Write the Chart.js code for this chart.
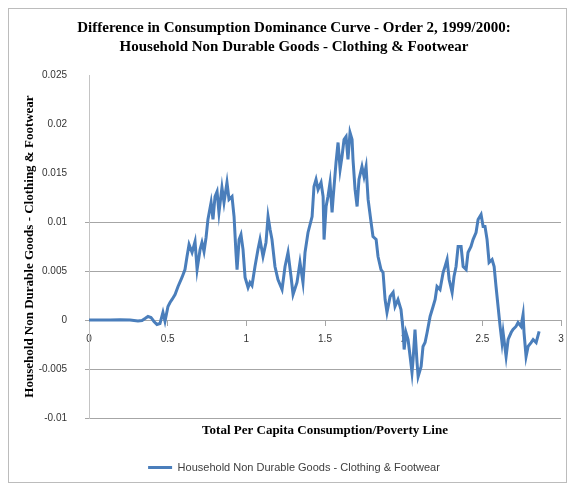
<!DOCTYPE html>
<html>
<head>
<meta charset="utf-8">
<script src="https://cdn.jsdelivr.net/npm/chart.js@4"></script>
<style>
    html, body { margin: 0; padding: 0; background: #fff; }
    #wrap { position: relative; width: 573px; height: 489px; }
    #frame { position: absolute; left: 8px; top: 8px; width: 557px; height: 473px; border: 1px solid #bcbcbc; pointer-events: none; }
</style>
</head>
<body>
<div id="wrap">
    <canvas id="chart" width="573" height="489"></canvas>
    <div id="frame"></div>
</div>
<script>
// --- DATA ---
const titleLines = ['Difference in Consumption Dominance Curve - Order 2, 1999/2000:', 'Household Non Durable Goods - Clothing & Footwear'];
const seriesName = 'Household Non Durable Goods - Clothing & Footwear';

// total per capita consumption / poverty line
const consumptionRatio = [
    0, 0.070, 0.134, 0.197, 0.261, 0.311, 0.337, 0.356, 0.375, 0.394,
    0.413, 0.432, 0.451, 0.470, 0.483, 0.502, 0.515, 0.528, 0.547, 0.566,
    0.591, 0.610, 0.623, 0.636, 0.655, 0.674, 0.687, 0.706, 0.718, 0.731,
    0.744, 0.756, 0.776, 0.788, 0.801, 0.814, 0.826, 0.845, 0.858, 0.877,
    0.890, 0.909, 0.922, 0.934, 0.941, 0.954, 0.966, 0.979, 0.992, 1.011,
    1.023, 1.036, 1.055, 1.074, 1.087, 1.106, 1.125, 1.138, 1.151, 1.163,
    1.182, 1.201, 1.227, 1.246, 1.265, 1.284, 1.297, 1.322, 1.341, 1.360,
    1.373, 1.392, 1.418, 1.430, 1.443, 1.456, 1.475, 1.488, 1.494, 1.507,
    1.519, 1.532, 1.545, 1.551, 1.570, 1.583, 1.596, 1.608, 1.621, 1.634,
    1.646, 1.659, 1.672, 1.678, 1.691, 1.704, 1.716, 1.735, 1.748, 1.761,
    1.774, 1.793, 1.805, 1.825, 1.837, 1.856, 1.869, 1.882, 1.894, 1.914,
    1.933, 1.945, 1.964, 1.983, 1.996, 2.003, 2.015, 2.028, 2.041, 2.053,
    2.060, 2.072, 2.085, 2.092, 2.111, 2.123, 2.136, 2.149, 2.168, 2.187,
    2.200, 2.212, 2.231, 2.251, 2.263, 2.276, 2.289, 2.308, 2.320, 2.333,
    2.346, 2.365, 2.378, 2.397, 2.409, 2.428, 2.441, 2.460, 2.473, 2.492,
    2.505, 2.517, 2.530, 2.543, 2.562, 2.575, 2.587, 2.600, 2.613, 2.625,
    2.632, 2.651, 2.664, 2.683, 2.695, 2.714, 2.727, 2.746, 2.759, 2.765,
    2.778, 2.791, 2.810, 2.823, 2.842, 2.861
];

// difference in dominance curve
const clothingDiff = [
    0, 0, 0, 0.00002, 0, -0.0001, -0.00005, 0.00015, 0.00036, 0.00026,
    -0.00015, -0.00046, -0.00036, 0.00077, -0.00012, 0.00138, 0.00179, 0.0021, 0.0026, 0.00342,
    0.00434, 0.00515, 0.00648, 0.0077, 0.00689, 0.00801, 0.00515, 0.00719, 0.00791, 0.00699,
    0.00842, 0.01026, 0.01199, 0.01026, 0.0126, 0.01311, 0.01097, 0.01352, 0.01199, 0.01403,
    0.0123, 0.0126, 0.01056, 0.00689, 0.00515, 0.00821, 0.00872, 0.00719, 0.00434, 0.00332,
    0.00383, 0.00352, 0.00546, 0.00719, 0.00821, 0.00648, 0.00791, 0.01056, 0.00923, 0.00821,
    0.00546, 0.00413, 0.00311, 0.00546, 0.00689, 0.00444, 0.0026, 0.00383, 0.00587, 0.00383,
    0.00689, 0.00893, 0.01056, 0.01362, 0.01434, 0.01332, 0.01403, 0.0126, 0.00821, 0.01158,
    0.0126, 0.01403, 0.01097, 0.0123, 0.01607, 0.01811, 0.01536, 0.01668, 0.01842, 0.01872,
    0.01638, 0.01913, 0.01842, 0.01638, 0.01332, 0.01158, 0.01434, 0.01566, 0.01464, 0.01566,
    0.0123, 0.00995, 0.00852, 0.00821, 0.00648, 0.00515, 0.00485, 0.00209, 0.00077, 0.0024,
    0.00281, 0.00138, 0.00209, 0.00107, -0.00097, -0.00301, -0.00128, -0.00199, -0.00372, -0.00536,
    -0.00403, -0.00097, -0.00434, -0.00577, -0.00474, -0.0027, -0.0023, -0.00128, 0.00036, 0.00138,
    0.00209, 0.00342, 0.00311, 0.00485, 0.00546, 0.00617, 0.00413, 0.00281, 0.00444, 0.00546,
    0.0075, 0.0075, 0.00546, 0.00515, 0.00689, 0.0075, 0.00821, 0.00893, 0.01026, 0.01077,
    0.00954, 0.00954, 0.00821, 0.00587, 0.00617, 0.00546, 0.00342, 0.00138, -0.00066, -0.0023,
    -0.00128, -0.00372, -0.00199, -0.00128, -0.00097, -0.00066, -0.00026, -0.00066, 0.00056, -0.00128,
    -0.00372, -0.0027, -0.0023, -0.00199, -0.0023, -0.00117
];

const xTicks = [0, 0.5, 1, 1.5, 2, 2.5, 3];
const yTicks = [-0.01, -0.005, 0, 0.005, 0.01, 0.015, 0.02, 0.025];

const lineBlue = '#4a7ebb';
const gridGrey = '#a6a6a6';
const serif = "'Liberation Serif', 'Times New Roman', serif";
const sans = "'Liberation Sans', Arial, sans-serif";

const fmt = v => String(Number(v.toFixed(3)));

window.onload = () => {
    const points = consumptionRatio.map((x, i) => ({ x: x, y: clothingDiff[i] }));

    new Chart(document.getElementById('chart').getContext('2d'), {
        type: 'line',
        data: {
            datasets: [{
                label: seriesName,
                data: points,
                borderColor: lineBlue,
                backgroundColor: lineBlue,
                borderWidth: 3,
                pointRadius: 0,
                tension: 0
            }]
        },
        options: {
            responsive: false,
            animation: false,
            parsing: false,
            // left padding 27 keeps title + legend centred where the original has them
            layout: { padding: { top: 10, left: 27, right: 12, bottom: 6 } },
            plugins: {
                title: {
                    display: true,
                    text: titleLines,
                    color: '#000',
                    font: { family: serif, size: 15, weight: 'bold', lineHeight: 1.3 },
                    padding: { top: 8, bottom: 18 }
                },
                legend: {
                    position: 'bottom',
                    labels: {
                        usePointStyle: true,
                        pointStyle: 'line',
                        pointStyleWidth: 24,
                        boxWidth: 24,
                        color: '#404040',
                        font: { family: sans, size: 11 },
                        padding: 10
                    }
                },
                tooltip: { enabled: false }
            },
            scales: {
                x: {
                    type: 'linear',
                    position: { y: 0 },
                    min: xTicks[0],
                    max: xTicks[xTicks.length - 1],
                    afterBuildTicks: s => { s.ticks = xTicks.map(v => ({ value: v })); },
                    ticks: { callback: fmt, color: '#333', font: { family: sans, size: 10 }, padding: 8, maxRotation: 0 },
                    grid: { drawOnChartArea: false, drawTicks: true, tickLength: 5, color: gridGrey },
                    border: { color: gridGrey }
                },
                x2: {
                    type: 'linear',
                    position: 'bottom',
                    afterFit: s => { s.height = 34; },
                    ticks: { display: false },
                    grid: { display: false },
                    border: { display: false },
                    title: {
                        display: true,
                        text: 'Total Per Capita Consumption/Poverty Line',
                        color: '#000',
                        font: { family: serif, size: 13, weight: 'bold' },
                        padding: { top: 0, bottom: 14 }
                    }
                },
                y: {
                    type: 'linear',
                    min: yTicks[0],
                    max: yTicks[yTicks.length - 1],
                    afterBuildTicks: s => { s.ticks = yTicks.map(v => ({ value: v })); },
                    afterFit: s => { s.width = 62; },
                    ticks: { callback: fmt, color: '#333', font: { family: sans, size: 10 }, padding: 18 },
                    grid: {
                        tickLength: 4,
                        color: c => (c.tick && c.tick.value > 0.012) ? 'rgba(0,0,0,0)' : gridGrey
                    },
                    border: { color: '#c4c4c4' },
                    title: {
                        display: true,
                        text: 'Household Non Durable Goods - Clothing & Footwear',
                        color: '#000',
                        font: { family: serif, size: 13, weight: 'bold' },
                        padding: { top: -5, bottom: 0 }
                    }
                }
            }
        }
    });
};
</script>
</body>
</html>
